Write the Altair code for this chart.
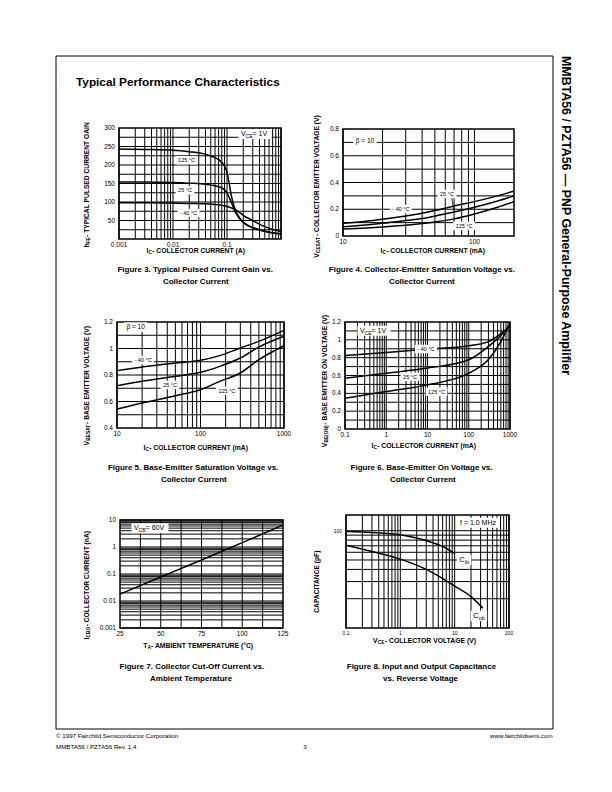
import altair as alt
import pandas as pd

M = 8  # page margin: chart pixel = page pixel - M
FONT = "Liberation Sans"

# ================= data =================
# Figure 3 - h_FE vs I_C (A)
f3_ic = [0.001, 0.003, 0.01, 0.02, 0.04, 0.06, 0.08, 0.09, 0.1, 0.11, 0.12, 0.14, 0.17, 0.21, 0.3, 0.45, 0.7, 1.0]
f3_t125 = [243, 242, 240, 236, 229, 220, 207, 197, 180, 150, 118, 82, 58, 43, 31, 23, 17, 14]
f3_t25 = [154, 154, 153, 151, 148, 144, 138, 133, 124, 112, 100, 75, 55, 42, 30, 22, 16, 13]
f3_tm40 = [98, 98, 97, 96, 95, 93, 91, 90, 88, 86, 84, 80, 72, 62, 50, 36, 26, 20]

# Figure 4 - V_CE(sat) vs I_C (mA)
f4_ic = [10, 15, 20, 30, 40, 50, 70, 100, 150, 200]
f4_a = [0.095, 0.11, 0.125, 0.15, 0.17, 0.19, 0.225, 0.257, 0.30, 0.336]
f4_b = [0.07, 0.083, 0.095, 0.115, 0.13, 0.148, 0.18, 0.215, 0.262, 0.30]
f4_c = [0.052, 0.06, 0.068, 0.08, 0.093, 0.105, 0.128, 0.165, 0.215, 0.257]

# Figure 5 - V_BE(sat) vs I_C (mA)
f5_ic = [10, 20, 50, 100, 170, 300, 500, 1000]
f5_tm40 = [0.833, 0.86, 0.89, 0.911, 0.946, 1.004, 1.054, 1.137]
f5_t25 = [0.719, 0.752, 0.79, 0.82, 0.865, 0.928, 1.011, 1.092]
f5_t125 = [0.543, 0.589, 0.644, 0.689, 0.752, 0.815, 0.916, 1.021]

# Figure 6 - V_BE(on) vs I_C (mA)
f6_ic = [0.1, 1, 10, 100, 300, 600, 1000]
f6_tm40 = [0.825, 0.859, 0.896, 0.934, 0.98, 1.07, 1.15]
f6_t25 = [0.57, 0.626, 0.683, 0.776, 0.926, 1.05, 1.17]
f6_t125 = [0.345, 0.42, 0.495, 0.626, 0.78, 0.98, 1.19]

# Figure 7 - I_CBO vs T_A
f7_ta = [25, 50, 75, 100, 125]
f7_icbo = [0.018, 0.077, 0.33, 1.45, 6.5]

# Figure 8 - capacitance vs V_CE
f8_cib_v = [0.1, 0.3, 1, 2, 4, 7, 10]
f8_cib = [98, 96, 91, 84, 75, 66, 58]
f8_cob_v = [0.1, 0.3, 1, 3, 10, 20, 33]
f8_cob = [71, 61, 51, 40, 27, 21, 16]


def logminor(e0, e1):
    return [k * 10.0 ** e for e in range(e0, e1) for k in range(1, 10)] + [10.0 ** e1]


def steps(a, b, s):
    n = int(round((b - a) / s))
    return [round(a + i * s, 6) for i in range(n + 1)]


# ================= text helpers =================
CW = {}
for chars, w in [("ijl'", 222), (" .,/:;!fIt[]", 278), ("()-r", 333), ("°", 400),
                 ("ckvxyzsJ", 500), ("0123456789abdeghnopquL", 556), ("=+β", 584),
                 ("FTZ", 611), ("ABEKPSVXY", 667), ("CDHNRUw", 722), ("GOQ", 778),
                 ("Mm", 833), ("W", 944), ("—", 1000), ("©", 737)]:
    for ch in chars:
        CW[ch] = w


def tw(s, size, bold=False):
    return sum(CW.get(ch, 556) for ch in s) / 1000.0 * size * (1.06 if bold else 1.0)


DUMMY = pd.DataFrame({"k": [0]})


def label(segs, size, enc, df=DUMMY, bold=False, angle=0, anchor="center", box=False, sub_scale=0.72):
    sizes = [size * sub_scale if sub else size for _, sub in segs]
    widths = [tw(t, s, bold) for (t, _), s in zip(segs, sizes)]
    total = sum(widths)
    start = -total / 2 if anchor == "center" else (0 if anchor == "left" else -total)
    out = []
    if box:
        W = total + 5
        H = size + 3
        h = H / W
        path = f"M-1,-{h:.4f}L1,-{h:.4f}L1,{h:.4f}L-1,{h:.4f}Z"
        out.append(alt.Chart(df).mark_point(shape=path, size=W * W, filled=True, color="white",
                                            opacity=1).encode(**enc))
    off = start
    for (t, sub), s, w in zip(segs, sizes, widths):
        out.append(alt.Chart(df).mark_text(
            text=t, align="left", baseline="middle", font=FONT, fontSize=s,
            fontWeight="bold" if bold else "normal", color="black",
            dx=off, dy=size * 0.3 if sub else 0, angle=angle).encode(**enc))
        off += w
    return out


def pix(x, y):
    return dict(x=alt.value(x - M), y=alt.value(y - M))


# ================= panels =================
panels = [
    dict(px=(119, 281), py=(128, 239), xtype="log", xdom=[0.001, 1], ytype="linear", ydom=[0, 300],
         vgrid=logminor(-3, 0), hgrid=steps(25, 275, 25),
         xticks=[0.001, 0.01, 0.1], xlabels=["0.001", "0.01", "0.1"],
         yticks=[50, 100, 150, 200, 250, 300], ylabels=["50", "100", "150", "200", "250", "300"],
         curves=[("125", f3_ic, f3_t125), ("25", f3_ic, f3_t25), ("-40", f3_ic, f3_tm40)],
         labels=[([("V", False), ("CE", True), (" = 1V", False)], 0.33, 284, 7),
                 ([("125 °C", False)], 0.0178, 213, 5.5),
                 ([("25 °C", False)], 0.0167, 132, 5.5),
                 ([("- 40 °C", False)], 0.0194, 70, 5.5)],
         xtitle=([("I", False), ("C", True), (" - COLLECTOR CURRENT  (A)", False)], 200, 251),
         ytitle=([("h", False), ("FE", True), (" - TYPICAL PULSED CURRENT GAIN", False)], 87, 181),
         caption=(["Figure 3. Typical Pulsed Current Gain vs.", "Collector Current"], 195, 270)),
    dict(px=(343, 514), py=(129, 236), xtype="log", xdom=[10, 200], ytype="linear", ydom=[0, 0.8],
         vgrid=steps(10, 100, 10), hgrid=steps(0.1, 0.7, 0.1),
         xticks=[10, 100], xlabels=["10", "100"],
         yticks=[0, 0.2, 0.4, 0.6, 0.8], ylabels=["0", "0.2", "0.4", "0.6", "0.8"],
         curves=[("a", f4_ic, f4_a), ("b", f4_ic, f4_b), ("c", f4_ic, f4_c)],
         labels=[([("β = 10", False)], 14.7, 0.71, 6.5),
                 ([("- 40 °C", False)], 27.6, 0.202, 5.5),
                 ([("25 °C", False)], 61.8, 0.314, 5.5),
                 ([("125 °C", False)], 83.4, 0.075, 5.5)],
         arrows=[(67, 70, 0.292, 0.185)],
         xtitle=([("I", False), ("C", True), (" - COLLECTOR CURRENT  (mA)", False)], 437, 251),
         ytitle=([("V", False), ("CESAT", True), (" - COLLECTOR EMITTER VOLTAGE (V)", False)], 317, 182),
         caption=(["Figure 4. Collector-Emitter Saturation Voltage vs.", "Collector Current"], 421, 270)),
    dict(px=(117, 284), py=(322, 428), xtype="log", xdom=[10, 1000], ytype="linear", ydom=[0.4, 1.2],
         vgrid=logminor(1, 3), hgrid=steps(0.5, 1.1, 0.1),
         xticks=[10, 100, 1000], xlabels=["10", "100", "1000"],
         yticks=[0.4, 0.6, 0.8, 1.0, 1.2], ylabels=["0.4", "0.6", "0.8", "1", "1.2"],
         curves=[("-40", f5_ic, f5_tm40), ("25", f5_ic, f5_t25), ("125", f5_ic, f5_t125)],
         labels=[([("β = 10", False)], 16.7, 1.162, 6.5),
                 ([("- 40 °C", False)], 20.5, 0.913, 5.5),
                 ([("25 °C", False)], 43.2, 0.725, 5.5),
                 ([("125 °C", False)], 207, 0.682, 5.5)],
         xtitle=([("I", False), ("C", True), (" - COLLECTOR CURRENT  (mA)", False)], 200, 448),
         ytitle=([("V", False), ("BESAT", True), (" - BASE  EMITTER VOLTAGE (V)", False)], 87, 381),
         caption=(["Figure 5. Base-Emitter Saturation Voltage vs.", "Collector Current"], 193, 468)),
    dict(px=(345, 510), py=(322, 429), xtype="log", xdom=[0.1, 1000], ytype="linear", ydom=[0, 1.2],
         vgrid=logminor(-1, 3), hgrid=steps(0.1, 1.1, 0.1),
         xticks=[0.1, 1, 10, 100, 1000], xlabels=["0.1", "1", "10", "100", "1000"],
         yticks=[0, 0.2, 0.4, 0.6, 0.8, 1.0, 1.2], ylabels=["0", "0.2", "0.4", "0.6", "0.8", "1", "1.2"],
         curves=[("-40", f6_ic, f6_tm40), ("25", f6_ic, f6_t25), ("125", f6_ic, f6_t125)],
         labels=[([("V", False), ("CE", True), (" = 1V", False)], 0.505, 1.102, 7),
                 ([("- 40 °C", False)], 9.2, 0.897, 5.5),
                 ([("25 °C", False)], 3.77, 0.587, 5.5),
                 ([("125 °C", False)], 16.5, 0.418, 5.5)],
         xtitle=([("I", False), ("C", True), (" - COLLECTOR CURRENT  (mA)", False)], 428, 446),
         ytitle=([("V", False), ("BE(ON)", True), (" - BASE EMITTER ON VOLTAGE (V)", False)], 325, 377),
         caption=(["Figure 6. Base-Emitter On Voltage vs.", "Collector Current"], 422, 468)),
    dict(px=(120, 283), py=(520, 628), xtype="linear", xdom=[25, 125], ytype="log", ydom=[0.001, 10],
         vgrid=steps(37.5, 112.5, 12.5), hgrid=logminor(-3, 1),
         xticks=[25, 50, 75, 100, 125], xlabels=["25", "50", "75", "100", "125"],
         yticks=[0.001, 0.01, 0.1, 1, 10], ylabels=["0.001", "0.01", "0.1", "1", "10"],
         curves=[("icbo", f7_ta, f7_icbo)],
         labels=[([("V", False), ("CB", True), (" = 60V", False)], 43.4, 4.93, 7)],
         xtitle=([("T", False), ("A", True), (" - AMBIENT TEMPERATURE (°C)", False)], 202, 646),
         ytitle=([("I", False), ("CBO", True), (" - COLLECTOR CURRENT (nA)", False)], 87, 582),
         caption=(["Figure 7. Collector Cut-Off Current vs.", "Ambient Temperature"], 191, 667)),
    dict(px=(346, 509), py=(515, 628), xtype="log", xdom=[0.1, 100], ytype="log", ydom=[10, 145],
         vgrid=logminor(-1, 2), hgrid=steps(20, 100, 10),
         xticks=[0.1, 1, 10, 100], xlabels=["0.1", "1", "10", "100"], tfs=5,
         yticks=[100], ylabels=["100"],
         curves=[("cib", f8_cib_v, f8_cib), ("cob", f8_cob_v, f8_cob)],
         labels=[([("f = 1.0 MHz", False)], 26.9, 121, 7),
                 ([("C", False), ("ib", True)], 14.9, 50, 7.5),
                 ([("C", False), ("ob", True)], 28, 13.3, 7.5)],
         xtitle=([("V", False), ("CE", True), (" - COLLECTOR VOLTAGE (V)", False)], 428, 641),
         ytitle=([("CAPACITANCE (pF)", False)], 317, 580),
         caption=(["Figure 8. Input and Output Capacitance", "vs. Reverse Voltage"], 421, 667)),
]


def make_panel(p):
    (x0, x1), (y0, y1) = p["px"], p["py"]

    def sc(kind, dom, rng):
        kw = dict(type=kind, domain=dom, range=rng, nice=False)
        if kind == "linear":
            kw["zero"] = False
        return alt.Scale(**kw)

    xs = sc(p["xtype"], p["xdom"], [x0 - M, x1 - M])
    ys = sc(p["ytype"], p["ydom"], [y1 - M, y0 - M])

    def X(f):
        return alt.X(f, type="quantitative", scale=xs, axis=None)

    def Y(f):
        return alt.Y(f, type="quantitative", scale=ys, axis=None)

    xa, xb = p["xdom"]
    ya, yb = p["ydom"]
    L = []
    vg = pd.DataFrame({"v": p["vgrid"], "lo": ya, "hi": yb})
    L.append(alt.Chart(vg).mark_rule(color="black", strokeWidth=1.0).encode(
        x=X("v"), y=Y("lo"), y2=alt.Y2("hi")))
    hg = pd.DataFrame({"v": p["hgrid"], "lo": xa, "hi": xb})
    L.append(alt.Chart(hg).mark_rule(color="black", strokeWidth=1.0).encode(
        y=Y("v"), x=X("lo"), x2=alt.X2("hi")))
    fr = pd.DataFrame({"a": [xa], "b": [xb], "c": [ya], "d": [yb]})
    L.append(alt.Chart(fr).mark_rect(filled=False, color="black", strokeWidth=1.5).encode(
        x=X("a"), x2=alt.X2("b"), y=Y("c"), y2=alt.Y2("d")))
    rows = []
    for name, cx, cy in p["curves"]:
        rows += [{"x": a, "y": b, "s": name} for a, b in zip(cx, cy)]
    L.append(alt.Chart(pd.DataFrame(rows)).mark_line(
        color="black", strokeWidth=1.5, interpolate="monotone").encode(
        x=X("x"), y=Y("y"), detail="s:N"))
    for (ax, bx, ay, by) in p.get("arrows", []):
        adf = pd.DataFrame({"a": [ax], "b": [bx], "c": [ay], "d": [by]})
        L.append(alt.Chart(adf).mark_rule(color="black", strokeWidth=0.8).encode(
            x=X("a"), x2=alt.X2("b"), y=Y("c"), y2=alt.Y2("d")))
    for segs, lx, ly, fs in p["labels"]:
        df = pd.DataFrame({"x": [lx], "y": [ly]})
        L += label(segs, fs, dict(x=X("x"), y=Y("y")), df=df, box=True)
    tfs = p.get("tfs", 6.5)
    xt = pd.DataFrame({"v": p["xticks"], "t": p["xlabels"], "y": ya})
    L.append(alt.Chart(xt).mark_text(baseline="top", dy=2.5, fontSize=tfs, font=FONT, color="black").encode(
        x=X("v"), y=Y("y"), text="t:N"))
    yt = pd.DataFrame({"v": p["yticks"], "t": p["ylabels"], "x": xa})
    L.append(alt.Chart(yt).mark_text(align="right", baseline="middle", dx=-4, fontSize=tfs, font=FONT,
                                     color="black").encode(x=X("x"), y=Y("v"), text="t:N"))
    segs, tx, ty = p["xtitle"]
    L += label(segs, 6.8, pix(tx, ty), bold=True)
    segs, tx, ty = p["ytitle"]
    L += label(segs, 6.7, pix(tx, ty), bold=True, angle=270)
    lines, cx, cy = p["caption"]
    for i, ln in enumerate(lines):
        L += label([(ln, False)], 8, pix(cx, cy + i * 11.5), bold=True)
    return L


layers = []
border = alt.Chart(DUMMY).mark_rect(filled=False, color="black", strokeWidth=1).encode(
    x=alt.value(56 - M), x2=alt.value(553 - M), y=alt.value(56 - M), y2=alt.value(729 - M))
layers.append(border)
layers += label([("Typical Performance Characteristics", False)], 11.8, pix(76, 82), bold=True, anchor="left")
layers += label([("MMBTA56 / PZTA56 — PNP General-Purpose Amplifier", False)], 12.4, pix(566, 56),
                bold=True, angle=90, anchor="left")
layers += label([("© 1997 Fairchild Semiconductor Corporation", False)], 6.2, pix(56, 736), anchor="left")
layers += label([("www.fairchildsemi.com", False)], 6.2, pix(553, 736), anchor="right")
layers += label([("MMBTA56 / PZTA56 Rev. 1.4", False)], 6.2, pix(56, 747), anchor="left")
layers += label([("3", False)], 6.2, pix(305, 747))

for p in panels:
    layers += make_panel(p)

chart = alt.layer(*layers).resolve_scale(x="independent", y="independent").properties(
    width=596, height=776, padding=0, autosize="none", background="white"
).configure_view(strokeWidth=0)

chart.save("out.html", embed_options={"renderer": "svg", "actions": False})
